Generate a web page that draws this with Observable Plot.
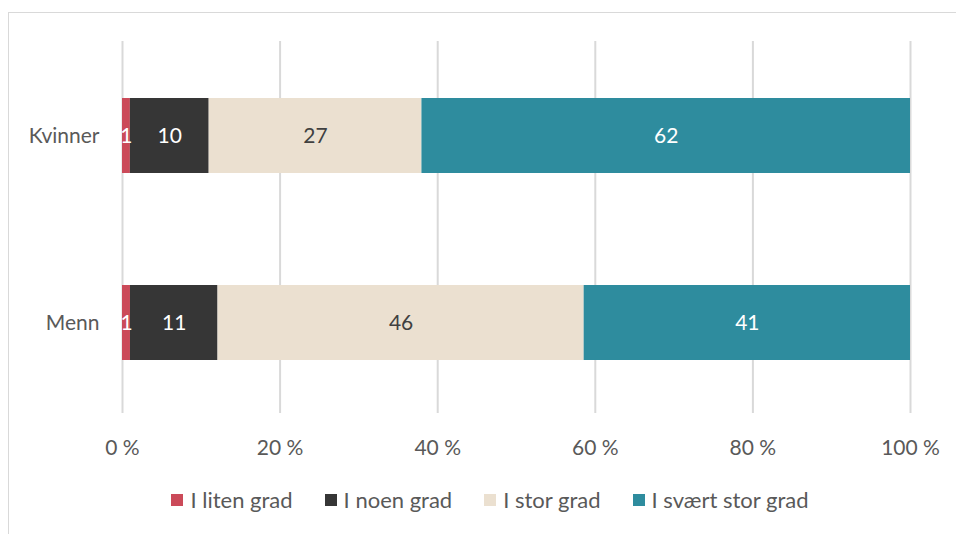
<!DOCTYPE html>
<html>
<head>
<meta charset="utf-8">
<script src="https://cdn.jsdelivr.net/npm/d3@7"></script>
<script src="https://cdn.jsdelivr.net/npm/@observablehq/plot@0.6"></script>
<style>
  html, body { margin: 0; padding: 0; background: #fff; }
  body { width: 956px; height: 534px; position: relative; overflow: hidden; font-family: Lato, "Open Sans", sans-serif; }
  #frame { position: absolute; left: 8px; top: 12px; width: 1000px; height: 600px; border-left: 1.5px solid #d9d9d9; border-top: 1.5px solid #d9d9d9; }
  #chart { position: absolute; left: 0; top: 0; }
  #legend { position: absolute; top: 486px; left: 0; width: 956px; padding-left: 24px; box-sizing: border-box; display: flex; justify-content: center; gap: 32px; font-size: 22px; color: #595959; }
  #legend .item { display: flex; align-items: center; gap: 7px; }
  #legend .sw { width: 12px; height: 12px; display: inline-block; }
</style>
</head>
<body>
<div id="frame"></div>
<div id="chart"></div>
<div id="legend"></div>
<script>
const categories = ["Kvinner", "Menn"];
const seriesNames = ["I liten grad", "I noen grad", "I stor grad", "I svært stor grad"];
const kvinnerValues = [1, 10, 27, 62];
const mennValues = [1, 11, 46, 41];
const seriesColors = ["#cb4a59", "#363636", "#ebe0d0", "#2e8c9e"];
const labelColors = ["#ffffff", "#ffffff", "#404040", "#ffffff"];
const xTicks = [0, 0.2, 0.4, 0.6, 0.8, 1];

const valuesByCategory = [kvinnerValues, mennValues];
const data = [];
categories.forEach((c, ci) => {
  seriesNames.forEach((s, si) => {
    data.push({category: c, series: s, value: valuesByCategory[ci][si], labelColor: labelColors[si]});
  });
});

const stackOpts = {x: "value", y: "category", z: "series", offset: "normalize", order: null};

const chart = Plot.plot({
  width: 956,
  height: 470,
  marginLeft: 122,
  marginRight: 46,
  marginTop: 41,
  marginBottom: 57,
  style: {fontFamily: "Lato, 'Open Sans', sans-serif", fontSize: "21px", color: "#595959", background: "transparent"},
  x: {domain: [0, 1], ticks: xTicks, tickFormat: d => Math.round(d * 100) + " %", tickSize: 0, tickPadding: 27, label: null},
  y: {domain: categories, paddingInner: 0.6, paddingOuter: 0.29, align: 0.52, tickSize: 0, tickPadding: 23, label: null},
  color: {domain: seriesNames, range: seriesColors},
  marks: [
    Plot.ruleX(xTicks, {stroke: "#d9d9d9", strokeWidth: 2}),
    Plot.barX(data, Plot.stackX({...stackOpts, fill: "series"})),
    Plot.text(data, Plot.stackX({...stackOpts, text: d => String(d.value), fill: "labelColor", fontSize: 21}))
  ]
});
document.getElementById("chart").appendChild(chart);

const legend = document.getElementById("legend");
seriesNames.forEach((s, i) => {
  const item = document.createElement("span");
  item.className = "item";
  const sw = document.createElement("span");
  sw.className = "sw";
  sw.style.background = seriesColors[i];
  const t = document.createElement("span");
  t.textContent = s;
  item.appendChild(sw);
  item.appendChild(t);
  legend.appendChild(item);
});
</script>
</body>
</html>
